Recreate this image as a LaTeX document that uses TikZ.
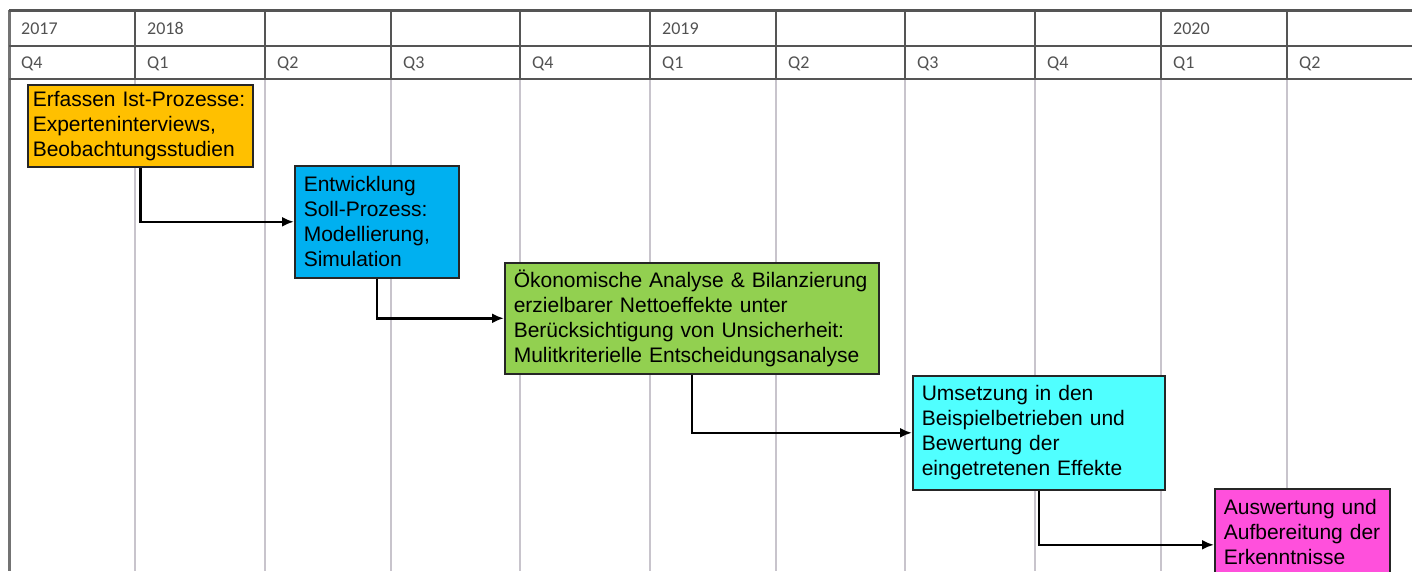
\documentclass[tikz,border=0pt]{standalone}
\usepackage{fontspec}
\setmainfont{Liberation Sans}
\newfontfamily\hdrfont{Carlito}
\usetikzlibrary{arrows.meta}
\definecolor{istorange}{RGB}{255,192,0}
\definecolor{sollblue}{RGB}{0,176,240}
\definecolor{oekogreen}{RGB}{146,208,80}
\definecolor{umsetzcyan}{RGB}{80,255,255}
\definecolor{auswmagenta}{RGB}{255,80,220}
\definecolor{rulegray}{RGB}{85,85,85}
\definecolor{gridgray}{RGB}{200,196,204}
\tikzset{
      phase/.style={draw=black!85, line width=1.6, anchor=north west, align=left,
            inner xsep=9pt, font=\fontsize{21}{25}\selectfont},
      link/.style={draw=black, line width=2.4, -{Latex[length=12pt,width=10pt]}},
      headrule/.style={draw=rulegray, line width=2.6},
      gridline/.style={draw=gridgray, line width=1.4},
      headtext/.style={anchor=base west, inner sep=0pt, text=black!68,
            font=\hdrfont\fontsize{18}{18}\selectfont},
}

\begin{document}
\begin{tikzpicture}[x=1pt,y=-1pt]
        \useasboundingbox (0,0) rectangle (1412,571);
        \clip (0,0) rectangle (1412,571);

        % Draw the grid
        \foreach \gx in {135,265,391,520,650,776,905,1035,1161,1287} {
            \draw[gridline] (\gx,79) -- (\gx,571);
            \draw[headrule, line width=2] (\gx,10) -- (\gx,79);
        }
        \draw[draw=black!55, line width=3] (9,10) -- (9,571);
        \draw[headrule, line width=3] (9,10) -- (1412,10);
        \draw[headrule] (9,46) -- (1412,46);
        \draw[headrule] (9,79) -- (1412,79);

        % Years and quarters
        \foreach \gx/\yr in {9/2017, 135/2018, 650/2019, 1161/2020}
            \node[headtext] (year\yr) at (\gx+12,34) {\yr};
        \foreach \gx/\qu [count=\i] in {9/Q4, 135/Q1, 265/Q2, 391/Q3, 520/Q4, 650/Q1,
                                        776/Q2, 905/Q3, 1035/Q4, 1161/Q1, 1287/Q2}
            \node[headtext] (quarter\i) at (\gx+12,68) {\qu};

        % Draw the phases
        \node[phase, fill=istorange, inner xsep=5pt, text width=215pt, minimum height=82pt] (ist)
            at (27,84) {Erfassen Ist-Prozesse:\\Experteninterviews,\\Beobachtungsstudien};
        \node[phase, fill=sollblue, text width=146pt, minimum height=112pt] (soll)
            at (294,165) {Entwicklung\\Soll-Prozess:\\Modellierung,\\Simulation};
        \node[phase, fill=oekogreen, text width=356pt, minimum height=111pt] (oeko)
            at (504,262) {Ökonomische Analyse \& Bilanzierung\\erzielbarer Nettoeffekte unter\\Berücksichtigung von Unsicherheit:\\Mulitkriterielle Entscheidungsanalyse};
        \node[phase, fill=umsetzcyan, text width=234pt, minimum height=114pt] (umsetz)
            at (912,375) {Umsetzung in den\\Beispielbetrieben und\\Bewertung der\\eingetretenen Effekte};
        \node[phase, fill=auswmagenta, text width=157pt, minimum height=112pt] (ausw)
            at (1214,488) {Auswertung und\\Aufbereitung der\\Erkenntnisse\\~};

        % Draw the links
        \draw[link] (ist.south) |- (soll.west);
        \draw[link] (soll.south) |- (oeko.west);
        \draw[link] (oeko.south) |- (umsetz.west);
        \draw[link] (umsetz.south) |- (ausw.west);

\end{tikzpicture}
\end{document}
